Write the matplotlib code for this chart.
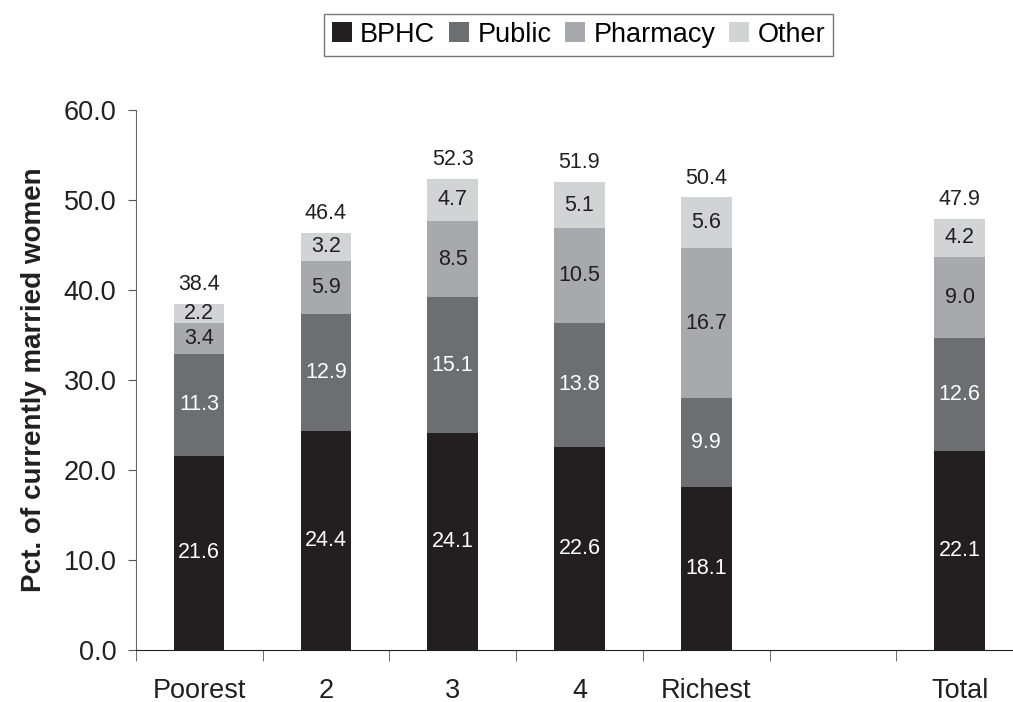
import matplotlib.pyplot as plt
import numpy as np

plt.rcParams['font.family'] = ['Liberation Sans', 'DejaVu Sans']

posiciones = [0, 1, 2, 3, 4, 6]
etiquetas = ["Poorest", "2", "3", "4", "Richest", "Total"]
bphc = [21.6, 24.4, 24.1, 22.6, 18.1, 22.1]
publico = [11.3, 12.9, 15.1, 13.8, 9.9, 12.6]
farmacia = [3.4, 5.9, 8.5, 10.5, 16.7, 9.0]
otro = [2.2, 3.2, 4.7, 5.1, 5.6, 4.2]
totales = [38.4, 46.4, 52.3, 51.9, 50.4, 47.9]

series = [("BPHC", bphc, "#231f20", "white"),
          ("Public", publico, "#6d6e71", "white"),
          ("Pharmacy", farmacia, "#a7a9ac", "#231f20"),
          ("Other", otro, "#d1d3d4", "#231f20")]

fig = plt.figure(figsize=(10.13, 7.02), dpi=100)
ax = fig.add_axes([0.134, 0.074, 0.876, 0.769])

abajo = np.zeros(len(posiciones))
for nombre, valores, color, color_txt in series:
    barras = ax.bar(posiciones, valores, 0.4, bottom=abajo, color=color, label=nombre)
    for b, v in zip(barras, valores):
        ax.text(b.get_x() + b.get_width() / 2, b.get_y() + b.get_height() / 2,
                f"{v:.1f}", ha="center", va="center", color=color_txt, fontsize=15.5)
    abajo = abajo + np.array(valores)

# totales encima de cada barra
for x, arriba, t in zip(posiciones, abajo, totales):
    ax.annotate(f"{t:.1f}", (x, arriba), xytext=(0, 10), textcoords="offset points",
                ha="center", va="baseline", fontsize=15.5, color="#231f20")

ax.set_xlim(-0.5, 6.5)
ax.set_ylim(0, 60)
ax.set_yticks(np.arange(0, 61, 10))
ax.set_yticklabels([f"{v:.1f}" for v in np.arange(0, 61, 10)], fontsize=19.5, color="#231f20")
ax.set_xticks(posiciones)
ax.set_xticklabels(etiquetas, fontsize=19.5, color="#231f20")
ax.set_xticks(np.arange(-0.5, 6.0, 1.0), minor=True)
ax.tick_params(axis="x", which="major", length=0, pad=20)
ax.tick_params(axis="x", which="minor", length=8, color="#555555")
ax.tick_params(axis="y", length=6, color="#555555", pad=8)

for lado in ["top", "right"]:
    ax.spines[lado].set_visible(False)
ax.spines["left"].set_color("#666666")
ax.spines["bottom"].set_color("#231f20")

ax.set_ylabel("Pct. of currently married women", fontsize=20, fontweight="bold",
              color="#231f20", labelpad=12)

leg = fig.legend(loc="upper center", bbox_to_anchor=(0.571, 1.0), ncol=4, fontsize=19.5,
                 frameon=True, fancybox=False, edgecolor="#555555", handlelength=0.75,
                 handleheight=0.75, handletextpad=0.3, columnspacing=0.5, borderpad=0.3)
leg.get_frame().set_linewidth(1.0)

fig.savefig("out.png", dpi=100)
